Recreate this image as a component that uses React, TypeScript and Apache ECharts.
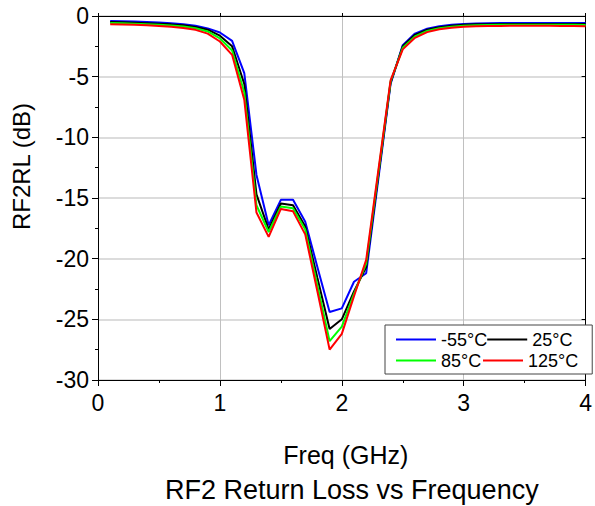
import React, { useEffect, useRef } from "react";
import * as echarts from "echarts";

const freqs = [
  0.1, 0.2, 0.3, 0.4, 0.5, 0.6, 0.7, 0.8, 0.9, 1.0,
  1.1, 1.2, 1.3, 1.4, 1.5, 1.6, 1.7, 1.8, 1.9, 2.0,
  2.1, 2.2, 2.3, 2.4, 2.5, 2.6, 2.7, 2.8, 2.9, 3.0,
  3.1, 3.2, 3.3, 3.4, 3.5, 3.6, 3.7, 3.8, 3.9, 4.0,
];

const rlMinus55 = [
  -0.41, -0.43, -0.46, -0.5, -0.54, -0.59, -0.67, -0.8, -1.02, -1.36,
  -2.05, -4.7, -13.1, -17.25, -15.15, -15.15, -16.95, -20.7, -24.4, -24.1,
  -21.9, -21.2, -13.4, -5.6, -2.4, -1.45, -1.05, -0.84, -0.72, -0.65,
  -0.61, -0.59, -0.58, -0.57, -0.57, -0.57, -0.57, -0.57, -0.58, -0.58,
];

const rl25 = [
  -0.5, -0.52, -0.55, -0.59, -0.63, -0.69, -0.77, -0.9, -1.13, -1.62,
  -2.5, -5.6, -14.7, -17.6, -15.45, -15.6, -17.35, -21.6, -25.8, -25.0,
  -22.7, -20.7, -13.1, -5.5, -2.5, -1.55, -1.13, -0.92, -0.8, -0.73,
  -0.69, -0.67, -0.66, -0.65, -0.65, -0.65, -0.65, -0.65, -0.66, -0.66,
];

const rl85 = [
  -0.58, -0.6, -0.63, -0.67, -0.72, -0.78, -0.87, -1.01, -1.27, -1.85,
  -2.85, -6.3, -15.6, -17.8, -15.7, -15.85, -17.6, -22.2, -26.8, -25.6,
  -22.9, -20.4, -12.9, -5.4, -2.62, -1.68, -1.23, -1.0, -0.88, -0.8,
  -0.76, -0.74, -0.73, -0.72, -0.72, -0.72, -0.72, -0.73, -0.73, -0.74,
];

const rl125 = [
  -0.68, -0.7, -0.73, -0.77, -0.82, -0.89, -0.99, -1.14, -1.45, -2.1,
  -3.2, -6.9, -16.2, -18.2, -15.9, -16.1, -18.0, -22.7, -27.5, -26.2,
  -23.1, -20.1, -12.7, -5.3, -2.75, -1.8, -1.33, -1.09, -0.97, -0.89,
  -0.85, -0.83, -0.82, -0.81, -0.81, -0.81, -0.81, -0.82, -0.83, -0.84,
];

const seriesNames = ["-55°C", "25°C", "85°C", "125°C"];
const seriesColors = ["#0000ff", "#000000", "#00ff00", "#ff0000"];
const seriesValues = [rlMinus55, rl25, rl85, rl125];

const FONT = '"Liberation Sans", Arial, sans-serif';

export default function App() {
  const ref = useRef<HTMLDivElement>(null);

  useEffect(() => {
    if (!ref.current) return;
    const chart = echarts.init(ref.current, undefined, { renderer: "svg" });

    const axisCommon = {
      type: "value" as const,
      axisLine: { show: true, onZero: false, lineStyle: { color: "#000", width: 1 } },
    };

    chart.setOption({
      animation: false,
      backgroundColor: "#fff",
      textStyle: { fontFamily: FONT },
      title: {
        text: "RF2 Return Loss vs Frequency",
        left: 165,
        top: 476,
        padding: 0,
        textStyle: {
          fontFamily: FONT,
          fontSize: 27,
          fontWeight: "normal",
          color: "#000",
          lineHeight: 27,
        },
      },
      grid: { left: 98, right: 6, top: 16, bottom: 126, containLabel: false },
      legend: {
        data: seriesNames.map((n) => ({ name: n, icon: "rect" })),
        left: 385,
        top: 325,
        width: 186,
        orient: "horizontal",
        itemGap: 0,
        itemWidth: 40,
        itemHeight: 2,
        padding: [4, 14, 3, 11],
        borderColor: "#444",
        borderWidth: 1,
        borderRadius: 0,
        backgroundColor: "#fff",
        textStyle: {
          fontFamily: FONT,
          fontSize: 18,
          color: "#000",
          width: 42,
          lineHeight: 21,
        },
      },
      xAxis: [
        {
          ...axisCommon,
          min: 0,
          max: 4,
          interval: 1,
          position: "bottom",
          name: "Freq (GHz)",
          nameLocation: "middle",
          nameGap: 62,
          nameTextStyle: {
            fontFamily: FONT,
            fontSize: 25,
            color: "#000",
            padding: [0, 0, 0, 8],
          },
          axisTick: { show: true, inside: false, length: 6, lineStyle: { color: "#000" } },
          minorTick: { show: true, splitNumber: 2, length: 3, lineStyle: { color: "#000" } },
          axisLabel: { fontFamily: FONT, fontSize: 23, color: "#000", margin: 11 },
          splitLine: { show: true, lineStyle: { color: "#c0c0c0", width: 1 } },
        },
        {
          ...axisCommon,
          min: 0,
          max: 4,
          interval: 1,
          position: "top",
          axisTick: { show: true, inside: false, length: 3, lineStyle: { color: "#000" } },
          minorTick: { show: false },
          axisLabel: { show: false },
          splitLine: { show: false },
        },
      ],
      yAxis: [
        {
          ...axisCommon,
          min: -30,
          max: 0,
          interval: 5,
          position: "left",
          axisTick: { show: true, inside: false, length: 6, lineStyle: { color: "#000" } },
          minorTick: { show: true, splitNumber: 2, length: 3, lineStyle: { color: "#000" } },
          axisLabel: { fontFamily: FONT, fontSize: 23, color: "#000", margin: 9 },
          splitLine: { show: true, lineStyle: { color: "#d0d0d0", width: 1.5 } },
        },
        {
          ...axisCommon,
          min: -30,
          max: 0,
          interval: 5,
          position: "right",
          axisTick: { show: true, inside: true, length: 4, lineStyle: { color: "#000" } },
          axisLabel: { show: false },
          splitLine: { show: false },
        },
      ],
      graphic: [
        {
          type: "text",
          x: 21,
          y: 166.5,
          rotation: Math.PI / 2,
          style: {
            text: "RF2RL (dB)",
            font: `24px ${FONT}`,
            fill: "#000",
            align: "center",
            verticalAlign: "middle",
          },
        },
      ],
      series: seriesNames.map((name, i) => ({
        name,
        type: "line",
        xAxisIndex: 0,
        yAxisIndex: 0,
        symbol: "none",
        showSymbol: false,
        lineStyle: { color: seriesColors[i], width: 2 },
        itemStyle: { color: seriesColors[i] },
        data: freqs.map((f, j) => [f, seriesValues[i][j]]),
        z: 2 + i,
      })),
    });

    return () => {
      chart.dispose();
    };
  }, []);

  return (
    <div
      ref={ref}
      style={{ position: "absolute", left: 0, top: 0, width: 595, height: 506 }}
    />
  );
}
